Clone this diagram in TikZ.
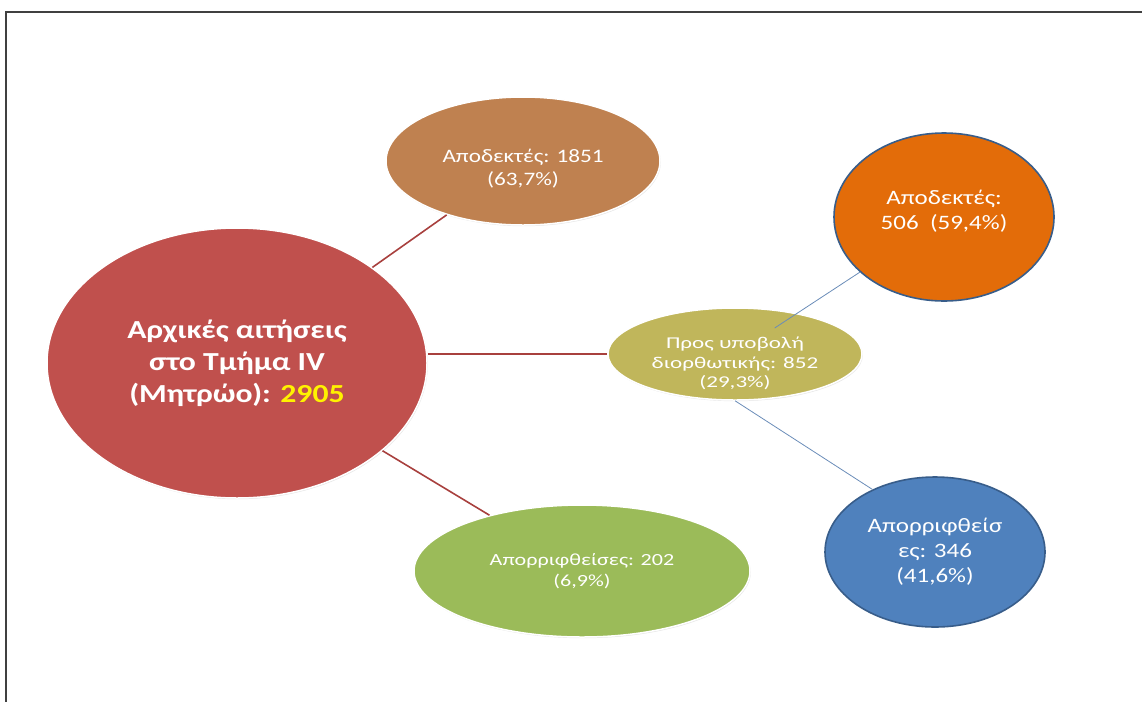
\documentclass[tikz,border=0pt]{standalone}
\usepackage{fontspec}
\setmainfont{Carlito}
\newfontfamily\widefont[FakeStretch=1.22]{Carlito}
\newfontfamily\widerfont[FakeStretch=1.3]{Carlito}
\newfontfamily\widestfont[FakeStretch=1.4]{Carlito}
\usepackage{tikz}
\usetikzlibrary{shapes, calc, shadows}

\definecolor{redfill}{HTML}{C0504D}
\definecolor{brownfill}{HTML}{BF8150}
\definecolor{olivefill}{HTML}{C0B65B}
\definecolor{orangefill}{HTML}{E36C09}
\definecolor{bluefill}{HTML}{4F81BD}
\definecolor{greenfill}{HTML}{9BBB59}
\definecolor{outlineblue}{HTML}{385D8A}
\definecolor{redline}{HTML}{A8403E}
\definecolor{blueline}{HTML}{6A8CB8}
\definecolor{framegray}{HTML}{404040}

\begin{document}
\begin{tikzpicture}
[x=1pt, y=-1pt,
bubble/.style={ellipse, draw=white, line width=1.5pt, text=white, align=center, inner sep=-10pt},
soft/.style={drop shadow={opacity=0.2, shadow xshift=0.8pt, shadow yshift=-1.2pt}},
outlined/.style={draw=outlineblue, line width=1.6pt},
bigtext/.style={font=\widefont\bfseries\fontsize{26}{32}\selectfont},
midtext/.style={font=\widefont\fontsize{20.5}{25}\selectfont},
browntext/.style={font=\widefont\fontsize{19}{23.5}\selectfont},
olivetext/.style={font=\widestfont\fontsize{16.5}{19.5}\selectfont},
greentext/.style={font=\widerfont\fontsize{17}{21}\selectfont},
line/.style={draw=redline, line width=1.6pt},
thinline/.style={draw=blueline, line width=0.8pt}]

\useasboundingbox (0,0) rectangle (1142,702);
\draw[framegray, line width=1.3pt] (1142,12) -- (6,12) -- (6,702);

\node[bubble, soft, bigtext, fill=redfill, minimum width=380pt, minimum height=270pt] (initial) at (237,363)
  {Αρχικές αιτήσεις\\στο Τμήμα IV\\(Μητρώο): \textcolor{yellow}{2905}};

\node[bubble, soft, browntext, fill=brownfill, minimum width=274pt, minimum height=128pt] (accepted) at (523,161)
  {\rule{0pt}{29pt}Αποδεκτές: 1851\\(63,7\%)};

\node[bubble, soft, olivetext, fill=olivefill, minimum width=254pt, minimum height=92pt] (corrective) at (735,354)
  {\rule{0pt}{31pt}Προς υποβολή\\διορθωτικής: 852\\(29,3\%)};

\node[bubble, soft, greentext, fill=greenfill, minimum width=336pt, minimum height=132pt] (rejected) at (582,571)
  {Απορριφθείσες: 202\\(6,9\%)};

\node[bubble, outlined, midtext, fill=orangefill, minimum width=220pt, minimum height=168pt] (accepted2) at (944,217)
  {Αποδεκτές:\\506\ \ (59,4\%)\rule[-15pt]{0pt}{15pt}};

\node[bubble, outlined, midtext, fill=bluefill, minimum width=220pt, minimum height=150pt] (rejected2) at (935,552)
  {Απορριφθείσ\\ες: 346\\(41,6\%)};

\path[line] (initial) -- (accepted);
\path[line] (initial.east |- corrective) -- (corrective);
\path[line] (initial) -- (rejected);

\path[thinline] ($(corrective)!0.19!(accepted2)$) -- (accepted2);
\path[thinline] (corrective.south) -- (rejected2.135);
\end{tikzpicture}
\end{document}
